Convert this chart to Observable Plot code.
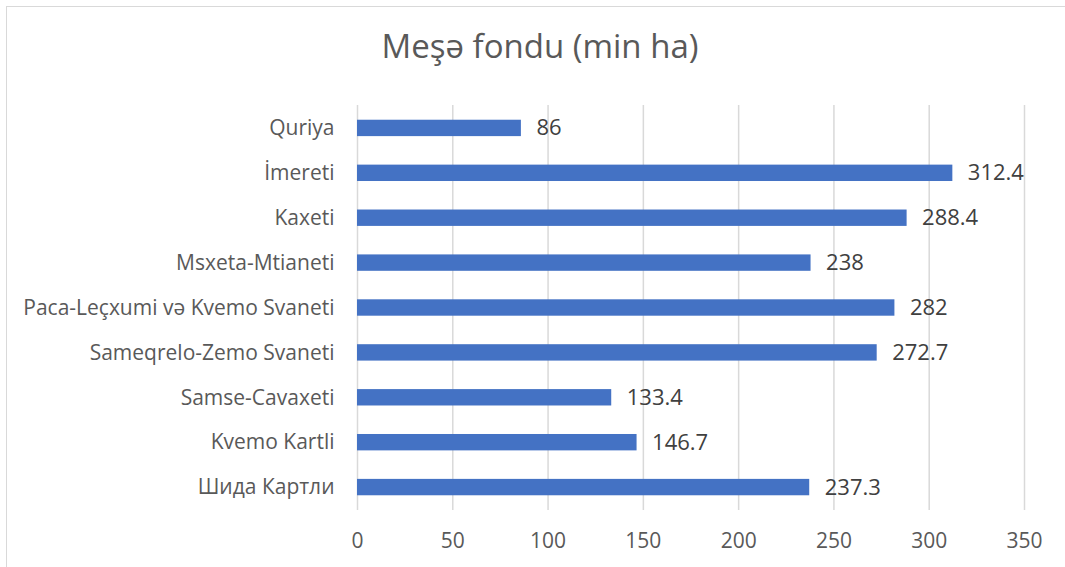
<!DOCTYPE html>
<html>
<head>
<meta charset="utf-8">
<script src="https://cdn.jsdelivr.net/npm/d3@7"></script>
<script src="https://cdn.jsdelivr.net/npm/@observablehq/plot@0.6"></script>
<style>
  body { margin: 0; background: #fff; width: 1065px; height: 567px; overflow: hidden; position: relative; font-family: "Open Sans", sans-serif; }
  #frame { position: absolute; left: 6px; top: 6px; width: 1070px; height: 570px; border: 1.5px solid #d9d9d9; box-sizing: border-box; }
  #title { position: absolute; left: 0; width: 1080px; top: 23px; text-align: center; font-size: 33px; color: #595959; white-space: nowrap; }
  #chart { position: absolute; left: 0; top: 90px; line-height: 0; }
</style>
</head>
<body>
<div id="frame"></div>
<div id="title">Meşə fondu (min ha)</div>
<div id="chart"></div>
<script>
const regions = ["Quriya", "İmereti", "Kaxeti", "Msxeta-Mtianeti", "Paca-Leçxumi və Kvemo Svaneti", "Sameqrelo-Zemo Svaneti", "Samse-Cavaxeti", "Kvemo Kartli", "Шида Картли"];
const values = [86, 312.4, 288.4, 238, 282, 272.7, 133.4, 146.7, 237.3];
const xTicks = [0, 50, 100, 150, 200, 250, 300, 350];

const data = regions.map((r, i) => ({region: r, value: values[i]}));

const plot = Plot.plot({
  width: 1065,
  height: 470,
  marginLeft: 357,
  marginRight: 41,
  marginTop: 15,
  marginBottom: 50,
  style: {fontFamily: "Open Sans, sans-serif", fontSize: "21px", color: "#595959", background: "transparent"},
  x: {domain: [0, 350], ticks: xTicks, label: null},
  y: {domain: regions, label: null, paddingInner: 0.635, paddingOuter: 0.328, round: false},
  marks: [
    Plot.ruleX(xTicks, {x: d => d, stroke: "#d9d9d9", strokeWidth: 1.5}),
    Plot.barX(data, {x: "value", y: "region", fill: "#4472C4"}),
    Plot.text(data, {x: "value", y: "region", text: d => String(d.value), textAnchor: "start", dx: 15, fill: "#404040", fontSize: 22}),
    Plot.axisX({ticks: xTicks, tickSize: 0, tickPadding: 23, fontSize: 21, fill: "#595959", label: null}),
    Plot.axisY({tickSize: 0, tickPadding: 23, fontSize: 21, fill: "#595959", label: null})
  ]
});
document.getElementById("chart").appendChild(plot);
</script>
</body>
</html>
